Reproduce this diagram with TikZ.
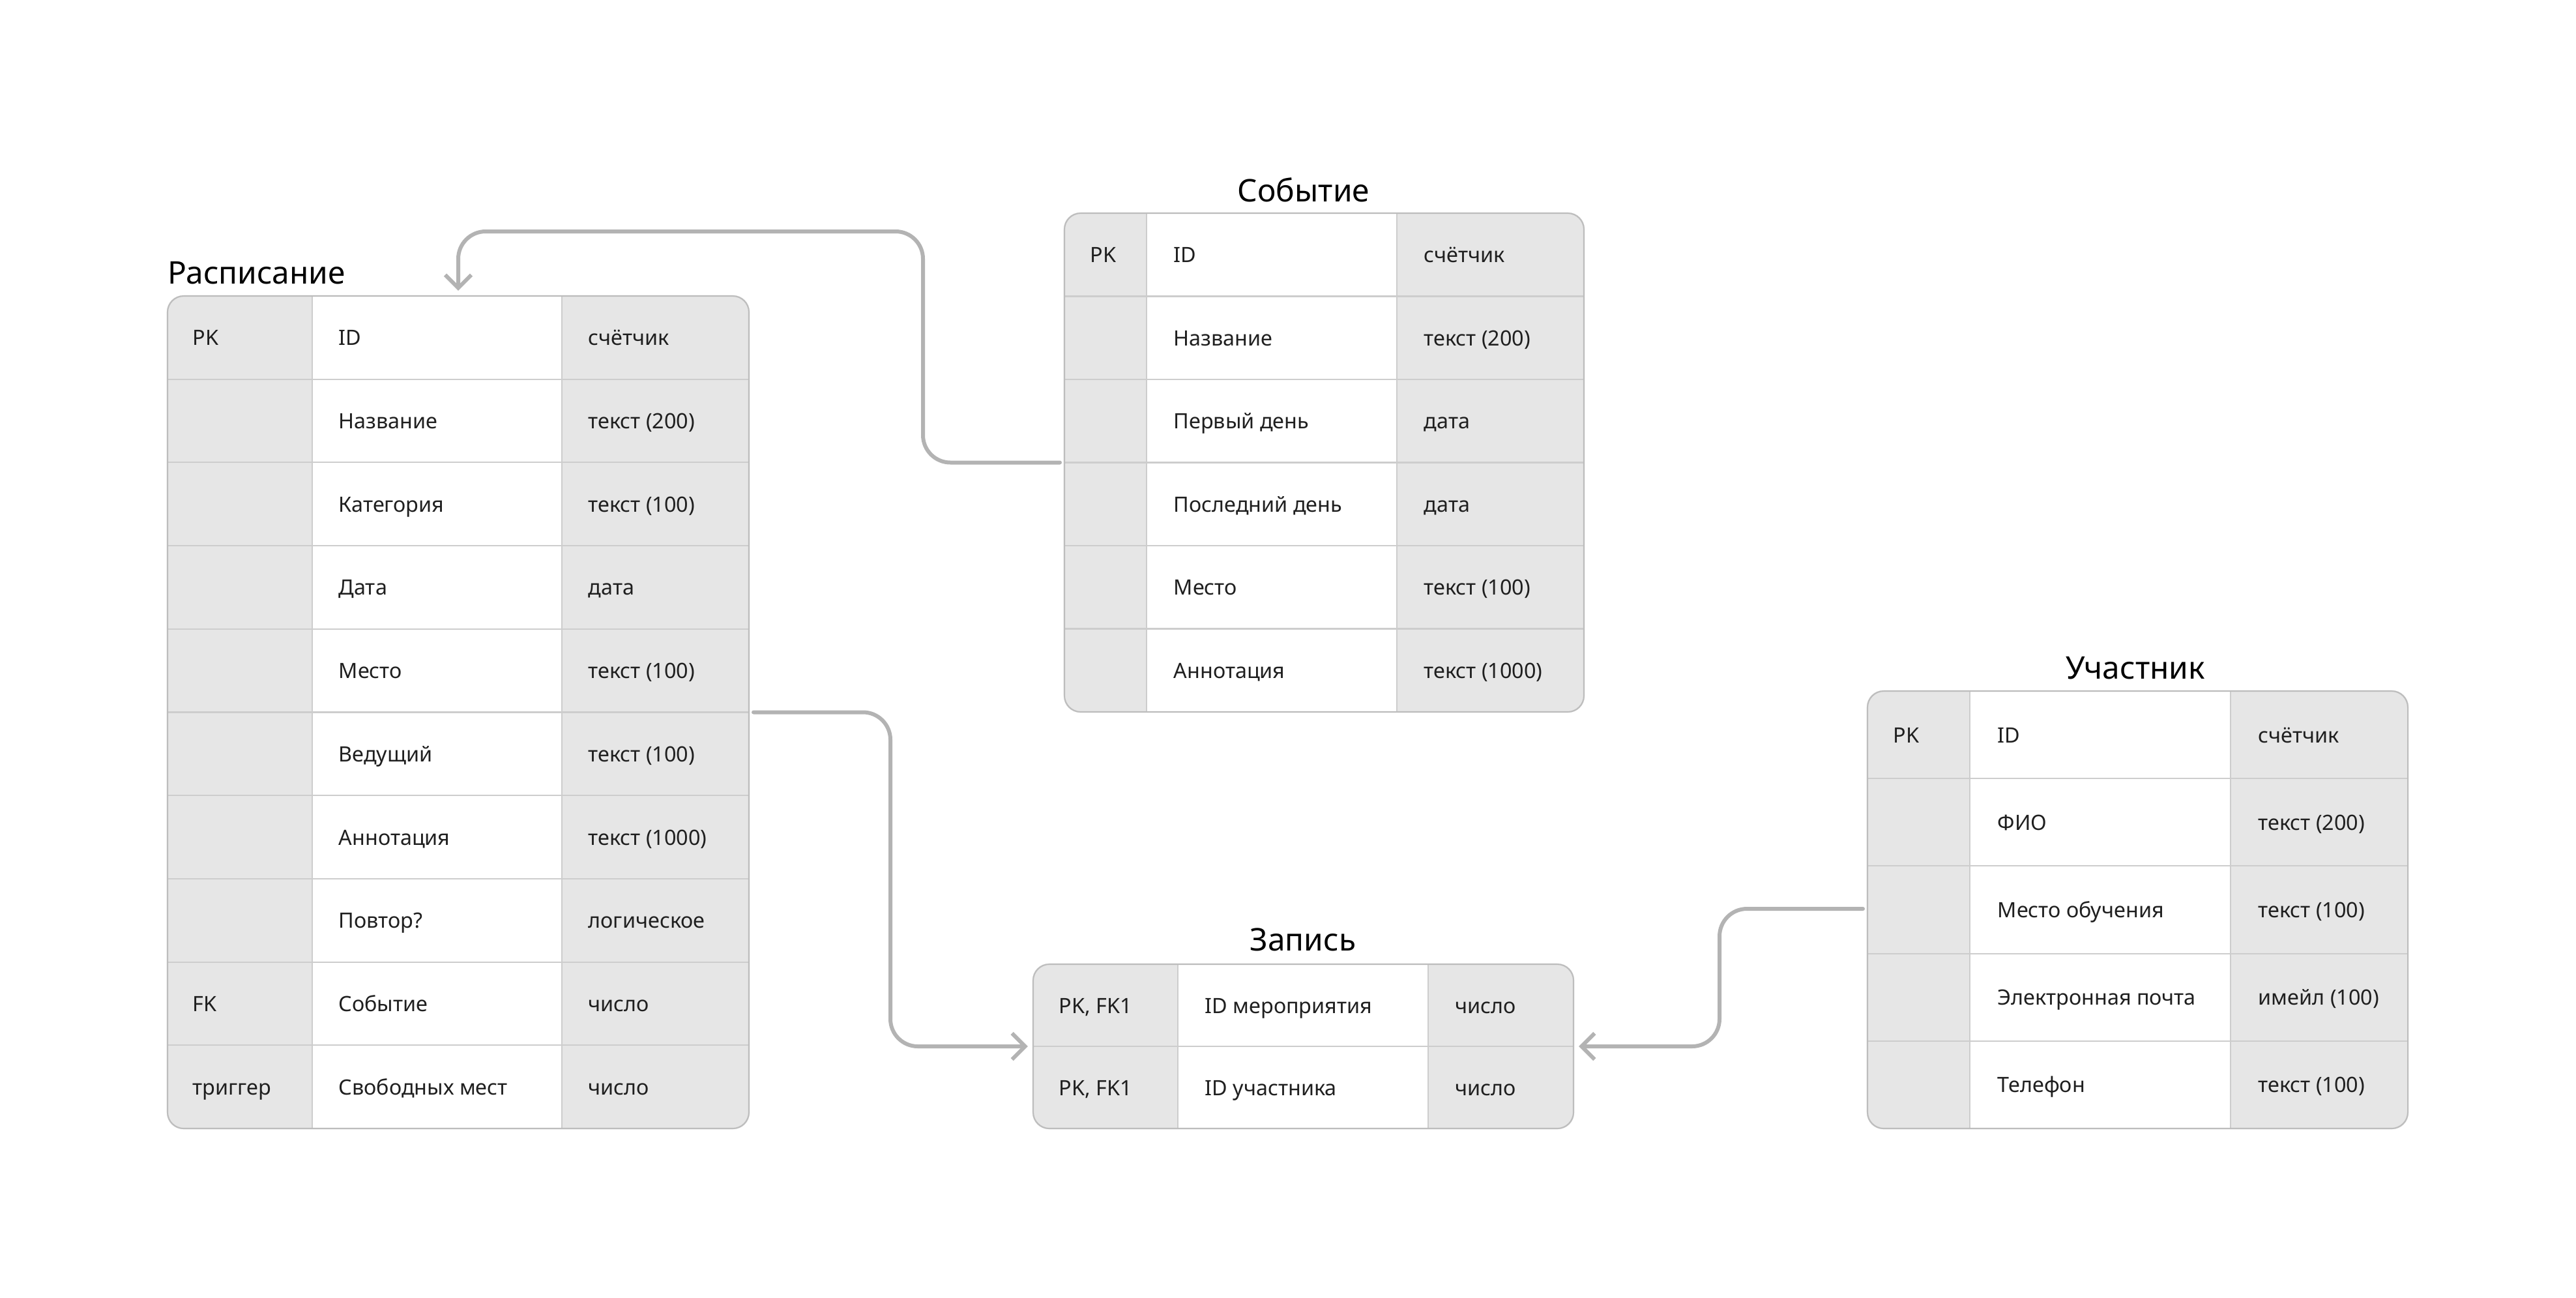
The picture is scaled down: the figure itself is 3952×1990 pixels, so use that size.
\documentclass[tikz,border=0pt]{standalone}
\usepackage{fontspec}
\setmainfont{Noto Sans}
\usetikzlibrary{arrows.meta,fit,backgrounds}

\definecolor{cellgray}{HTML}{E6E6E6}
\definecolor{framegray}{HTML}{BDBDBD}
\definecolor{rulegray}{HTML}{CDCDCD}
\definecolor{linkgray}{HTML}{B3B3B3}
\definecolor{ink}{HTML}{1F1F1F}

\tikzset{
  tablebox/.style={draw=framegray, line width=0.6pt, rounded corners=0.25cm, inner sep=0pt},
  rowrule/.style={draw=rulegray, line width=0.6pt},
  celltext/.style={anchor=base west, inner sep=0pt, text=ink, font=\fontsize{9.2}{11}\selectfont},
  tabletitle/.style={anchor=base, inner sep=0pt, text=black, font=\fontsize{13.6}{16}\selectfont},
  link/.style={draw=linkgray, line width=1.7pt, rounded corners=0.42cm, line cap=round, ->,
    shorten >=0.07cm, shorten <=0.07cm},
}

\begin{document}
\begin{tikzpicture}[x=0.01cm, y=-0.01cm, >={Straight Barb[length=0.2cm, width=0.4cm]}]

  \useasboundingbox (0,0) rectangle (3952,1990);
  \begin{scope}[on background layer]
    \fill[white] (0,0) rectangle (3952,1990);
  \end{scope}

  % Расписание
  \node[tabletitle, anchor=base west] (rasp-title) at (257,435) {Расписание};
  \node[tablebox, fit={(257,454) (1149,1731)}] (rasp) {};
  \begin{scope}[on background layer]
    \fill[cellgray, rounded corners=0.25cm] (rasp.north west) rectangle (rasp.south east);
    \fill[white] (479,454) rectangle (862,1731);
    \foreach \i in {1,...,9} \draw[rowrule] (257,{454+\i*127.7}) -- (1149,{454+\i*127.7});
    \draw[rowrule] (479,454) -- (479,1731) (862,454) -- (862,1731);
  \end{scope}
  \foreach \k/\f/\t [count=\i] in {PK/ID/счётчик, /Название/текст (200), /Категория/текст (100),
      /Дата/дата, /Место/текст (100), /Ведущий/текст (100), /Аннотация/текст (1000),
      /Повтор?/логическое, FK/Событие/число, триггер/Свободных мест/число}{
    \node[celltext] (rasp-k\i) at (295,{454+(\i-0.5)*127.7+12}) {\k};
    \node[celltext] (rasp-f\i) at (519,{454+(\i-0.5)*127.7+12}) {\f};
    \node[celltext] (rasp-t\i) at (902,{454+(\i-0.5)*127.7+12}) {\t};
  }

  % Событие
  \node[tabletitle] (sob-title) at (2000,309) {Событие};
  \node[tablebox, fit={(1633,327) (2430,1092)}] (sob) {};
  \begin{scope}[on background layer]
    \fill[cellgray, rounded corners=0.25cm] (sob.north west) rectangle (sob.south east);
    \fill[white] (1759,327) rectangle (2143,1092);
    \foreach \i in {1,...,5} \draw[rowrule] (1633,{327+\i*127.5}) -- (2430,{327+\i*127.5});
    \draw[rowrule] (1759,327) -- (1759,1092) (2143,327) -- (2143,1092);
  \end{scope}
  \foreach \k/\f/\t [count=\i] in {PK/ID/счётчик, /Название/текст (200), /Первый день/дата,
      /Последний день/дата, /Место/текст (100), /Аннотация/текст (1000)}{
    \node[celltext] (sob-k\i) at (1672,{327+(\i-0.5)*127.5+12}) {\k};
    \node[celltext] (sob-f\i) at (1800,{327+(\i-0.5)*127.5+12}) {\f};
    \node[celltext] (sob-t\i) at (2184,{327+(\i-0.5)*127.5+12}) {\t};
  }

  % Запись
  \node[tabletitle] (zap-title) at (1999,1458) {Запись};
  \node[tablebox, fit={(1585,1479) (2414,1731)}] (zap) {};
  \begin{scope}[on background layer]
    \fill[cellgray, rounded corners=0.25cm] (zap.north west) rectangle (zap.south east);
    \fill[white] (1807,1479) rectangle (2191,1731);
    \draw[rowrule] (1585,1605) -- (2414,1605);
    \draw[rowrule] (1807,1479) -- (1807,1731) (2191,1479) -- (2191,1731);
  \end{scope}
  \foreach \k/\f/\t [count=\i] in {{PK, FK1}/ID мероприятия/число, {PK, FK1}/ID участника/число}{
    \node[celltext] (zap-k\i) at (1624,{1479+(\i-0.5)*126+12}) {\k};
    \node[celltext] (zap-f\i) at (1848,{1479+(\i-0.5)*126+12}) {\f};
    \node[celltext] (zap-t\i) at (2232,{1479+(\i-0.5)*126+12}) {\t};
  }

  % Участник
  \node[tabletitle] (uch-title) at (3276,1041) {Участник};
  \node[tablebox, fit={(2865,1060) (3694,1731)}] (uch) {};
  \begin{scope}[on background layer]
    \fill[cellgray, rounded corners=0.25cm] (uch.north west) rectangle (uch.south east);
    \fill[white] (3022,1060) rectangle (3422,1731);
    \foreach \i in {1,...,4} \draw[rowrule] (2865,{1060+\i*134.2}) -- (3694,{1060+\i*134.2});
    \draw[rowrule] (3022,1060) -- (3022,1731) (3422,1060) -- (3422,1731);
  \end{scope}
  \foreach \k/\f/\t [count=\i] in {PK/ID/счётчик, /ФИО/текст (200), /Место обучения/текст (100),
      /Электронная почта/имейл (100), /Телефон/текст (100)}{
    \node[celltext] (uch-k\i) at (2904,{1060+(\i-0.5)*134.2+12}) {\k};
    \node[celltext] (uch-f\i) at (3064,{1060+(\i-0.5)*134.2+12}) {\f};
    \node[celltext] (uch-t\i) at (3464,{1060+(\i-0.5)*134.2+12}) {\t};
  }

  % связи
  \coordinate (sob-link) at (1633,709.5);
  \coordinate (rasp-link) at (1149,1092.5);
  \coordinate (uch-link) at (2865,1394);
  \draw[link] (sob-link) -| (1416,355) -| (rasp.north);
  \draw[link] (rasp-link) -| (1366,1605) -- (zap.west);
  \draw[link] (uch-link) -| (2638,1605) -- (zap.east);

\end{tikzpicture}
\end{document}
